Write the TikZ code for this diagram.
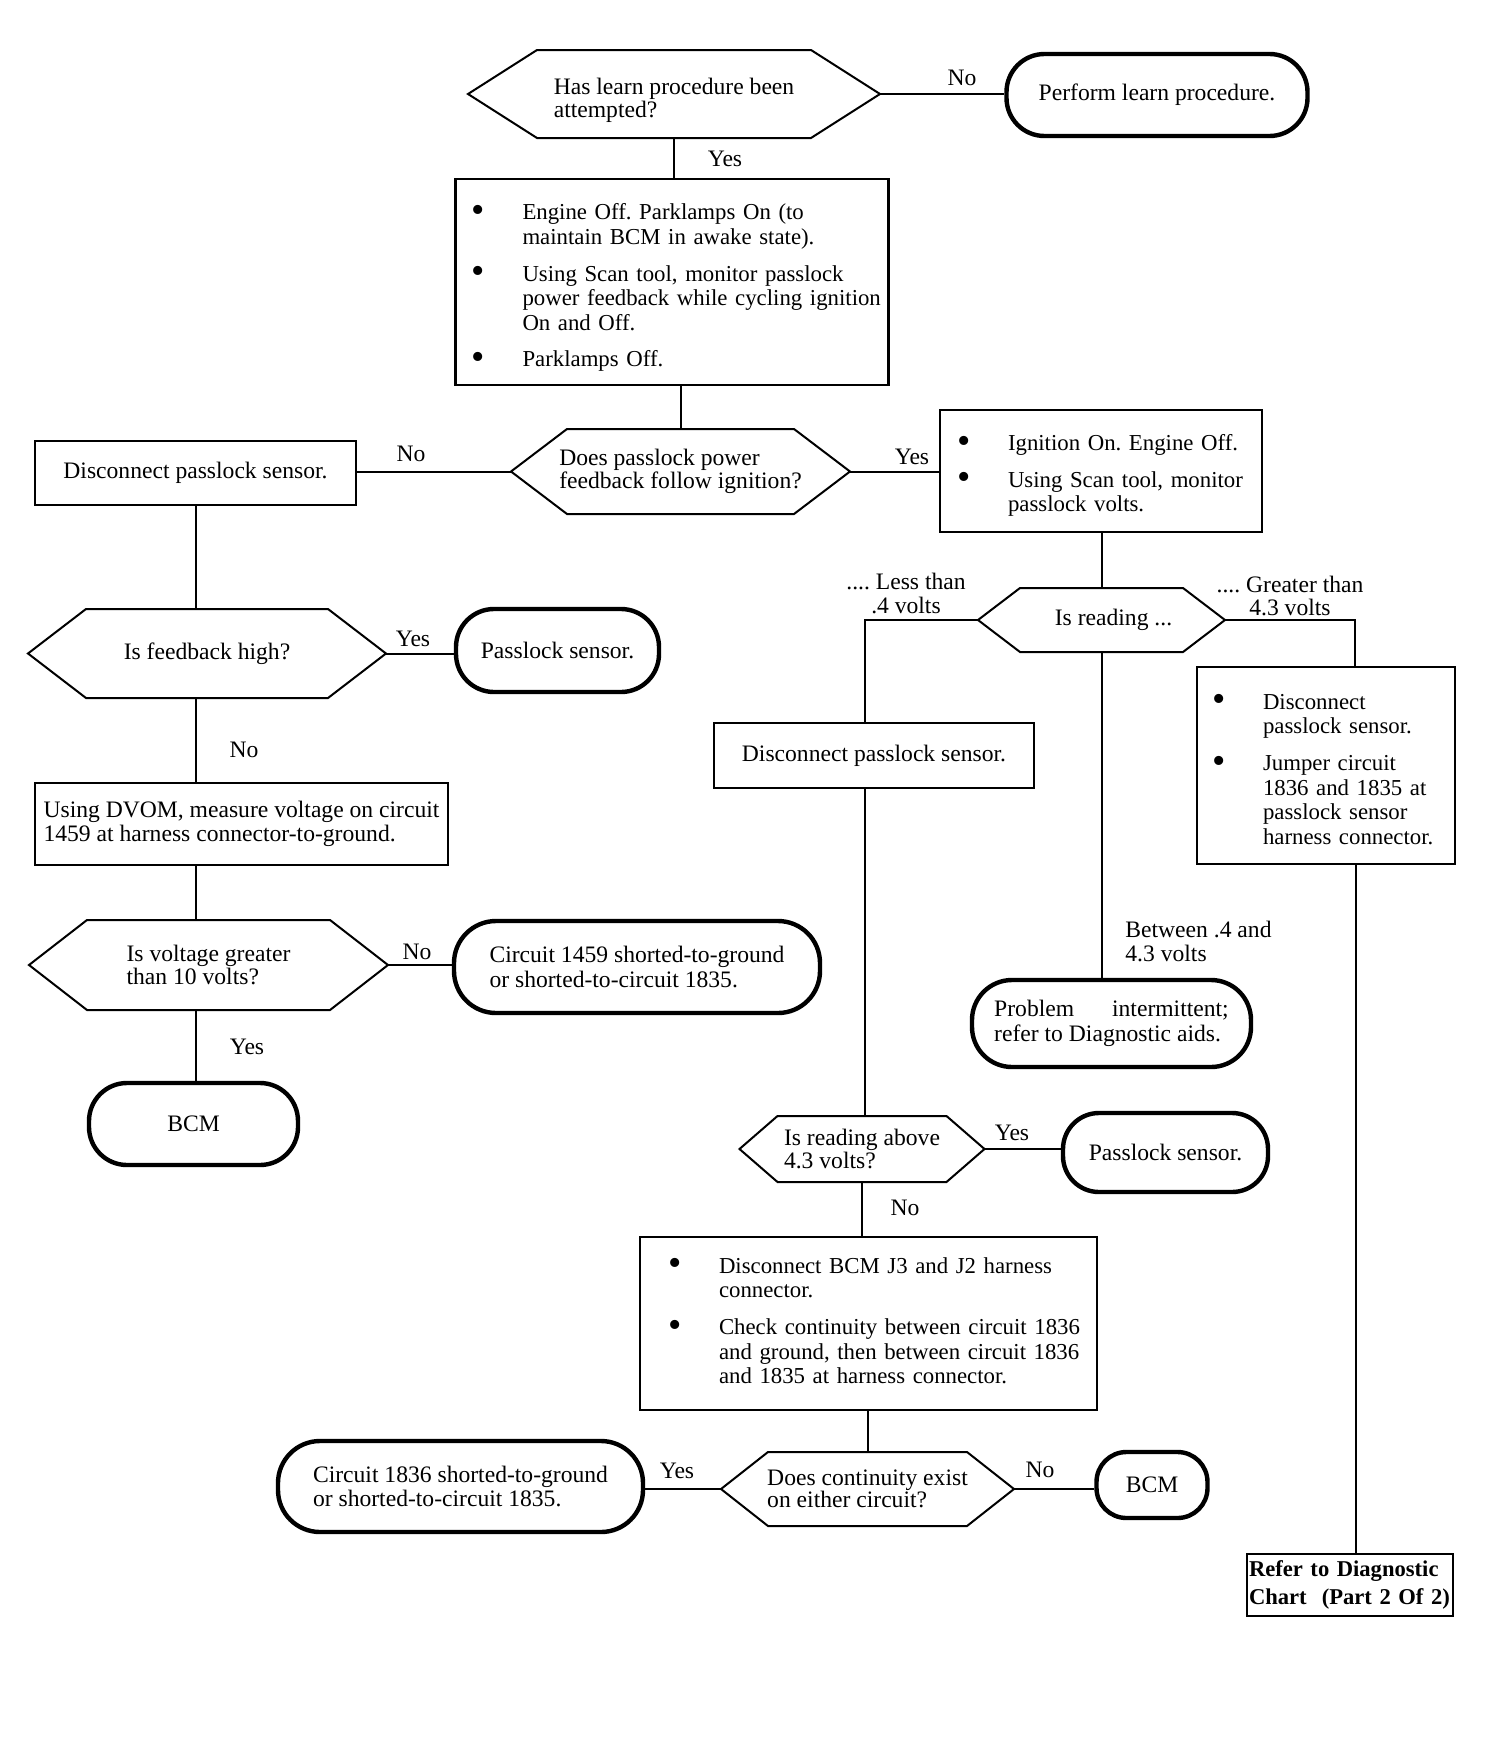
\documentclass[tikz,border=0pt]{standalone}
\usepackage{fontspec}
\setmainfont{Liberation Serif}
\usepackage{tikz}
\usetikzlibrary{calc}
\frenchspacing

\tikzset{
  every node/.style={font=\fontsize{11.8}{12.3}\selectfont},
  stepbox/.style={draw, rectangle, line width=1.4pt, inner sep=0pt, align=left},
  bulbox/.style={draw, rectangle, line width=1.4pt, inner ysep=0pt, inner xsep=#1, align=left, font=\fontsize{11.4}{12.3}\selectfont},
  termbox/.style={draw, rectangle, rounded corners=#1, line width=2.2pt, inner sep=0pt, align=left},
  hexa/.style={rectangle, inner sep=0pt, outer sep=0pt, align=left, font=\fontsize{11.8}{11.2}\selectfont},
  hexline/.style={line width=1pt, line join=miter},
  conn/.style={line width=1pt},
  lab/.style={inner sep=0pt, align=center, font=\fontsize{11.8}{11.6}\selectfont},
  refbox/.style={draw, rectangle, line width=1pt, inner ysep=0pt, inner xsep=1pt, align=left, font=\bfseries\fontsize{11.3}{14}\selectfont}
}
% outline of a decision node: name, slant
\newcommand{\hexout}[2]{%
  \draw[hexline] (#1.west) -- ([xshift=#2]#1.north west) -- ([xshift=-#2]#1.north east)
    -- (#1.east) -- ([xshift=-#2]#1.south east) -- ([xshift=#2]#1.south west) -- cycle;}
\newcommand{\bul}{\raisebox{-1.3pt}{\fontsize{19}{12}\selectfont\textbullet}}
\newcommand{\toppad}[1]{\rule{0pt}{#1}}

\begin{document}
\begin{tikzpicture}[x=0.5pt,y=0.5pt,yscale=-1,xscale=1]
\useasboundingbox (0,0) rectangle (1504,1740);

% top of the chart
\node[hexa, minimum width=206pt, minimum height=44pt] (h1) at (674,94) {\toppad{14.5pt}Has learn procedure been\\attempted?};
\hexout{h1}{34.5pt}
\node[termbox=19pt, minimum width=150.5pt, minimum height=41pt] (plp) at (1157,95) {Perform learn procedure.};
\node[bulbox=8pt, text width=200.5pt, minimum width=216.5pt, minimum height=103pt] (b1) at (672,282) {%
\begin{tabular}{@{}p{25.5pt}@{}l@{}}
\toppad{15pt}\bul & Engine Off. Parklamps On (to\\
 & maintain BCM in awake state).\\[6pt]
\bul & Using Scan tool, monitor passlock\\
 & power feedback while cycling ignition\\
 & On and Off.\\[6pt]
\bul & Parklamps Off.
\end{tabular}};
\node[hexa, minimum width=169.5pt, minimum height=42.5pt] (h2) at (680.5,471.5) {Does passlock power\\feedback follow ignition?};
\hexout{h2}{28pt}
\node[stepbox, minimum width=160.5pt, minimum height=32pt] (d1) at (195.5,473) {Disconnect passlock sensor.};
\node[bulbox=8.5pt, text width=144pt, minimum width=161pt, minimum height=61pt] (b2) at (1101,471) {%
\begin{tabular}{@{}p{25.5pt}@{}l@{}}
\toppad{14pt}\bul & Ignition On. Engine Off.\\[6pt]
\bul & Using Scan tool, monitor\\
 & passlock volts.
\end{tabular}};

% left column
\node[hexa, minimum width=179pt, minimum height=44.5pt] (h6) at (207,653.5) {Is feedback high?};
\hexout{h6}{29pt}
\node[termbox=19pt, minimum width=101.5pt, minimum height=41.5pt] (ps1) at (557.5,650.5) {Passlock sensor.};
\node[stepbox, minimum width=206.5pt, minimum height=41pt] (m) at (241.5,824) {Using DVOM, measure voltage on circuit\\1459 at harness connector-to-ground.};
\node[hexa, minimum width=179.5pt, minimum height=45pt] (h7) at (208.5,965) {Is voltage greater\\than 10 volts?};
\hexout{h7}{29pt}
\node[termbox=21pt, minimum width=183pt, minimum height=46pt] (c1) at (637,967) {Circuit 1459 shorted-to-ground\\or shorted-to-circuit 1835.};
\node[termbox=19pt, minimum width=104.5pt, minimum height=41pt] (bcm1) at (193.5,1124) {BCM};

% middle and right columns
\node[hexa, minimum width=123.5pt, minimum height=32pt] (h3) at (1101.5,620) {\hspace*{12pt}Is reading ...};
\hexout{h3}{21pt}
\node[stepbox, minimum width=160pt, minimum height=32.5pt] (d2) at (874,755.5) {Disconnect passlock sensor.};
\node[bulbox=7.5pt, text width=114pt, minimum width=129pt, minimum height=98.5pt] (b3) at (1326,765.5) {%
\begin{tabular}{@{}p{25.5pt}@{}l@{}}
\toppad{15pt}\bul & Disconnect\\
 & passlock sensor.\\[6pt]
\bul & Jumper circuit\\
 & 1836 and 1835 at\\
 & passlock sensor\\
 & harness connector.
\end{tabular}};
\node[termbox=20pt, minimum width=139.5pt, minimum height=43.5pt] (p) at (1111.5,1023.5) {Problem\hspace{16pt} intermittent;\\refer to Diagnostic aids.};
\node[hexa, minimum width=122.5pt, minimum height=33pt] (h4) at (862,1149) {Is reading above\\4.3 volts?};
\hexout{h4}{19pt}
\node[termbox=18pt, minimum width=102.5pt, minimum height=39.5pt] (ps2) at (1165.5,1152.5) {Passlock sensor.};
\node[bulbox=14pt, text width=200.5pt, minimum width=228.5pt, minimum height=86.5pt] (b4) at (868.5,1323.5) {%
\begin{tabular}{@{}p{25.5pt}@{}l@{}}
\bul & Disconnect BCM J3 and J2 harness\\
 & connector.\\[6pt]
\bul & Check continuity between circuit 1836\\
 & and ground, then between circuit 1836\\
 & and 1835 at harness connector.
\end{tabular}};
\node[hexa, minimum width=146.5pt, minimum height=37pt] (h5) at (867.5,1489) {Does continuity exist\\on either circuit?};
\hexout{h5}{23.5pt}
\node[termbox=21pt, minimum width=182.5pt, minimum height=45.5pt] (c2) at (460.5,1486.5) {Circuit 1836 shorted-to-ground\\or shorted-to-circuit 1835.};
\node[termbox=15pt, minimum width=55.5pt, minimum height=33pt] (bcm2) at (1152,1485) {BCM};
\node[refbox, text width=101pt, minimum width=103pt, minimum height=31pt] (r) at (1350,1585) {\mbox{Refer to Diagnostic}\\\mbox{Chart\ \ (Part 2 Of 2)}};

% connectors
\draw[conn] (h1.east) -- (h1.east -| plp.west);
\draw[conn] (h1.south) -- (h1.south |- b1.north);
\draw[conn] (h2.north |- b1.south) -- (h2.north);
\draw[conn] (h2.west) -- (h2.west -| d1.east);
\draw[conn] (h2.east) -- (h2.east -| b2.west);
\draw[conn] (d1.south) -- (d1.south |- h6.north);
\draw[conn] (h6.east) -- (h6.east -| ps1.west);
\draw[conn] (d1.south |- h6.south) -- (d1.south |- m.north);
\draw[conn] (d1.south |- m.south) -- (d1.south |- h7.north);
\draw[conn] (h7.east) -- (h7.east -| c1.west);
\draw[conn] (d1.south |- h7.south) -- (d1.south |- bcm1.north);
\draw[conn] (h3.north |- b2.south) -- (h3.north);
\draw[conn] (h3.west) -| ([xshift=-4.5pt]d2.north);
\draw[conn] (h3.east) -| ([xshift=14.5pt]b3.north);
\draw[conn] (h3.south) -- (h3.south |- p.north);
\draw[conn] ([xshift=-4.5pt]d2.south) -- ([xshift=-4.5pt]d2.south |- h4.north);
\draw[conn] (h4.east) -- (h4.east -| ps2.west);
\draw[conn] (h4.south) -- (h4.south |- b4.north);
\draw[conn] (h5.north |- b4.south) -- (h5.north);
\draw[conn] (h5.west) -- (h5.west -| c2.east);
\draw[conn] (h5.east) -- (h5.east -| bcm2.west);
\draw[conn] ([xshift=15pt]b3.south) -- ([xshift=15pt]b3.south |- r.north);

% branch labels
\node[lab] (no1) at (962,78) {No};
\node[lab] (yes1) at (725,159) {Yes};
\node[lab] (no2) at (411,454) {No};
\node[lab] (yes2) at (912,457) {Yes};
\node[lab] (less) at (906,593.5) {....\ Less than\\.4 volts};
\node[lab] (grt) at (1290,596) {....\ Greater than\\4.3 volts};
\node[lab, anchor=west, align=left] (betw) at (1125,941.5) {Between .4 and\\4.3 volts};
\node[lab] (yes3) at (413,639) {Yes};
\node[lab] (no3) at (244,750) {No};
\node[lab] (no4) at (417,952) {No};
\node[lab] (yes4) at (247,1047) {Yes};
\node[lab] (yes5) at (1012,1133) {Yes};
\node[lab] (no5) at (905,1208) {No};
\node[lab] (yes6) at (677,1471) {Yes};
\node[lab] (no6) at (1040,1470) {No};

\end{tikzpicture}
\end{document}
